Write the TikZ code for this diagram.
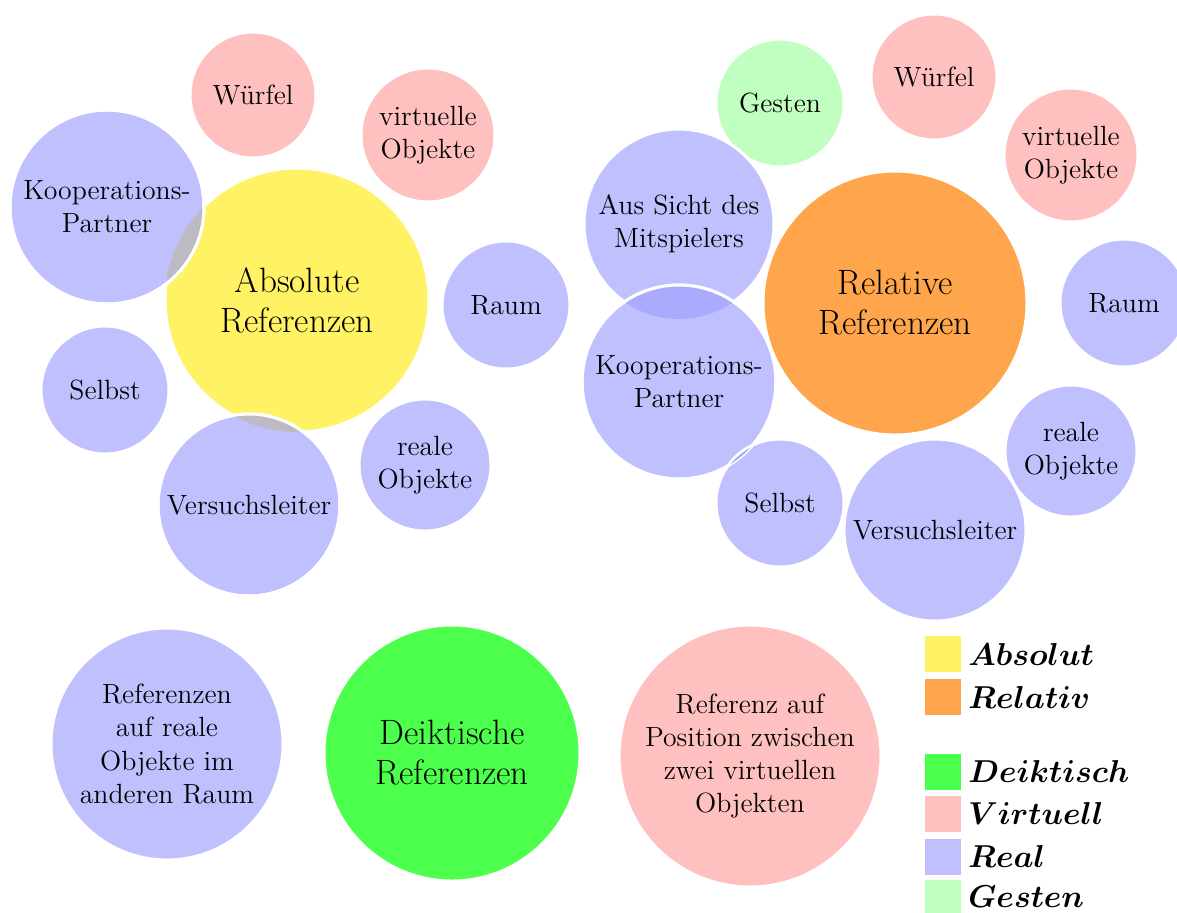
\documentclass[tikz,border=0pt]{standalone}
\usepackage{fontspec}
\usepackage{graphicx}
\usepackage{bm}
\definecolor{cyel}{RGB}{255,242,100}
\definecolor{corg}{RGB}{255,166,77}
\definecolor{cblue}{RGB}{192,192,255}
\definecolor{cpink}{RGB}{255,192,192}
\definecolor{cgest}{RGB}{192,255,192}
\definecolor{cgreen}{RGB}{77,255,77}
\definecolor{clensg}{RGB}{190,186,196}
\definecolor{clensb}{RGB}{170,170,255}
\newcommand{\bubfont}{\fontsize{13.9}{16.6}\selectfont}
\newcommand{\bigbubfont}{\fontsize{17.6}{20}\selectfont}
\newcommand{\legfont}{\fontsize{14.4}{18}\selectfont}
\newcommand{\legword}[1]{\scalebox{1.1}{$\bm{#1}$}}
\begin{document}
\begin{tikzpicture}[x=0.5pt,y=-0.5pt,
  bub/.style={circle, draw=white, line width=1.5pt, inner sep=0pt, align=center, font=\bubfont, text=black},
  bigbub/.style={bub, font=\bigbubfont},
  real/.style={bub, fill=cblue},
  virt/.style={bub, fill=cpink},
  rim/.style={draw=white, line width=1.5pt},
  legsq/.style={rectangle, minimum size=18pt, inner sep=0pt},
  legtext/.style={anchor=base west, inner sep=0pt, font=\legfont}]
\useasboundingbox (0,0) rectangle (1177,912);
\clip (0,0) rectangle (1177,912);
% ---------- left group: absolute references
\node[bigbub, fill=cyel, minimum size=132pt] (absref) at (297,300) {Absolute\\Referenzen};
\node[virt, minimum size=63pt] (wuerfelL) at (253,95) {Würfel};
\node[virt, minimum size=67pt] (virtL) at (428,135) {virtuelle\\Objekte};
\node[real, minimum size=97pt] (koopL) at (107,207) {Kooperations-\\Partner};
\node[real, minimum size=64pt] (raumL) at (506,305) {Raum};
\node[real, minimum size=64pt] (selbstL) at (105,390) {Selbst};
\node[real, minimum size=91pt] (versL) at (249,505) {Versuchsleiter};
\node[real, minimum size=66pt] (realeL) at (425,465) {reale\\Objekte};
\begin{scope}
  \clip (koopL.center) circle[radius=48.5pt];
  \fill[clensg] (absref.center) circle[radius=66pt];
\end{scope}
\draw[rim] (koopL.center) circle[radius=48.5pt];
\begin{scope}
  \clip (versL.center) circle[radius=45.5pt];
  \fill[clensg] (absref.center) circle[radius=66pt];
\end{scope}
\draw[rim] (versL.center) circle[radius=45.5pt];
% ---------- right group: relative references
\node[bub, fill=cgest, minimum size=64pt] (gesten) at (780,103) {Gesten};
\node[virt, minimum size=63pt] (wuerfelR) at (934,77) {Würfel};
\node[virt, minimum size=67pt] (virtR) at (1071,155) {virtuelle\\Objekte};
\node[real, minimum size=95pt] (sichtR) at (679,224) {Aus Sicht des\\Mitspielers};
\node[bigbub, fill=corg, minimum size=132pt] (relref) at (895,303) {Relative\\Referenzen};
\node[real, minimum size=64pt] (raumR) at (1124,303) {Raum};
\node[real, minimum size=97pt] (koopR) at (679,382) {Kooperations-\\Partner};
\node[real, minimum size=66pt] (realeR) at (1071,451) {reale\\Objekte};
\node[real, minimum size=64pt] (selbstR) at (780,503) {Selbst};
\node[real, minimum size=91pt] (versR) at (935,530) {Versuchsleiter};
\begin{scope}
  \clip (koopR.center) circle[radius=48.5pt];
  \fill[clensb] (sichtR.center) circle[radius=47.5pt];
\end{scope}
\draw[rim] (koopR.center) circle[radius=48.5pt];
\begin{scope}
  \clip (selbstR.center) circle[radius=32pt];
  \fill[clensb] (koopR.center) circle[radius=48.5pt];
\end{scope}
\draw[draw=white, line width=1pt] (selbstR.center) circle[radius=32pt];
% ---------- bottom row
\node[real, minimum size=116pt] (anderer) at (167,744) {Referenzen\\auf reale\\Objekte im\\anderen Raum};
\node[bigbub, fill=cgreen, minimum size=128pt] (deikt) at (452,753) {Deiktische\\Referenzen};
\node[virt, minimum size=131pt] (zwischen) at (750,756) {Referenz auf\\Position zwischen\\zwei virtuellen\\Objekten};
% ---------- legend
\node[legsq, fill=cyel] (sqAbs) at (943,654) {};
\node[legtext] (tAbs) at (968,665) {\legword{Absolut}};
\node[legsq, fill=corg] (sqRel) at (943,697) {};
\node[legtext] (tRel) at (968,708) {\legword{Relativ}};
\node[legsq, fill=cgreen] (sqDei) at (943,772) {};
\node[legtext] (tDei) at (968,782) {\legword{Deiktisch}};
\node[legsq, fill=cpink] (sqVir) at (943,814) {};
\node[legtext] (tVir) at (968,824) {\legword{Virtuell}};
\node[legsq, fill=cblue] (sqRea) at (943,857) {};
\node[legtext] (tRea) at (968,867) {\legword{Real}};
\node[legsq, fill=cgest] (sqGes) at (943,898) {};
\node[legtext] (tGes) at (968,907) {\legword{Gesten}};
\end{tikzpicture}
\end{document}
